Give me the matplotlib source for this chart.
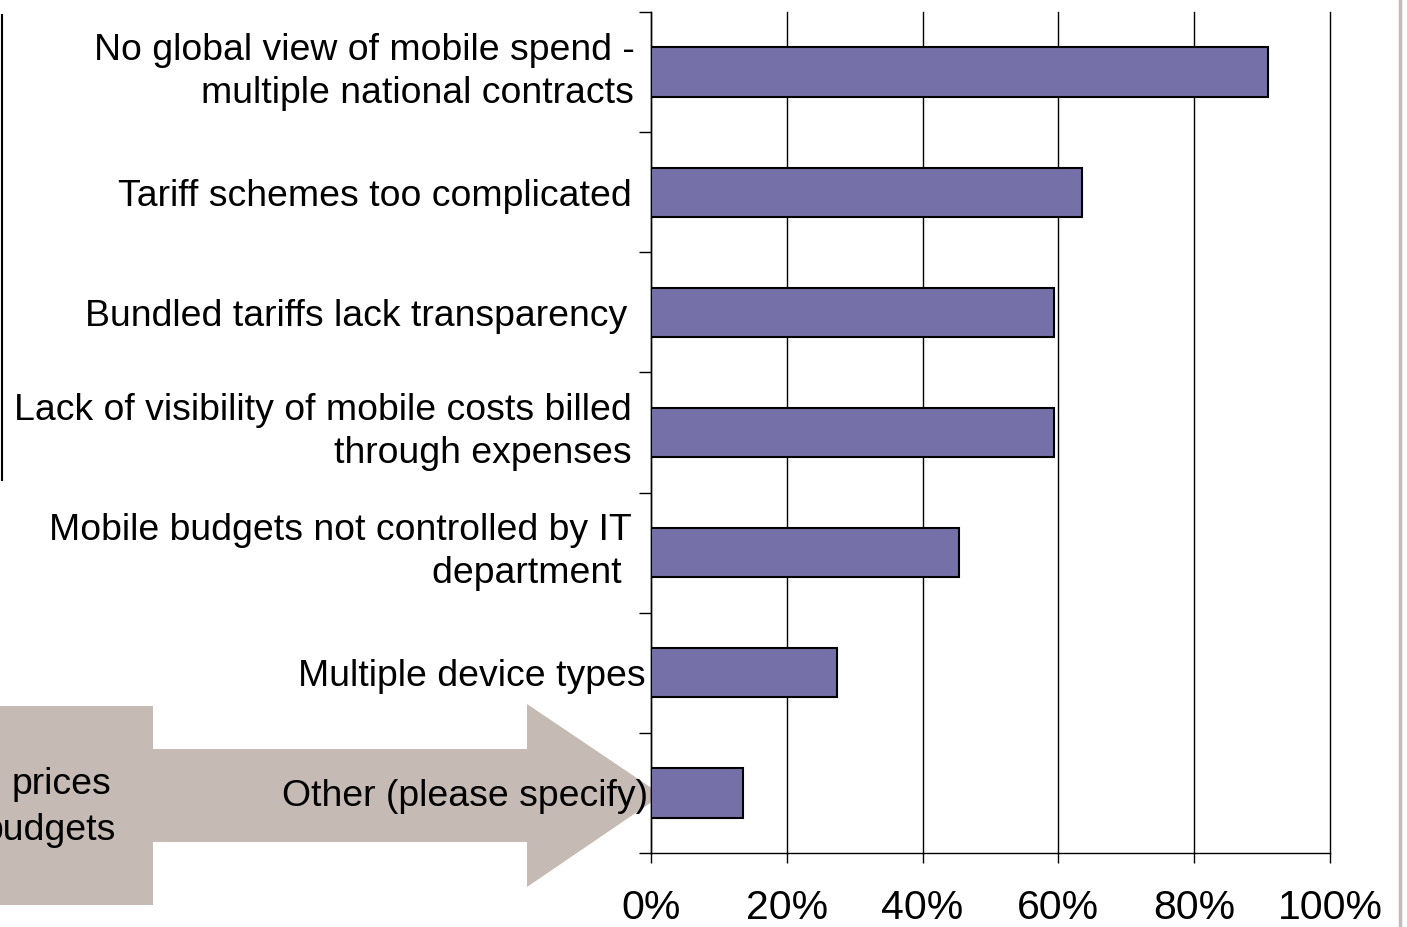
import matplotlib
matplotlib.use("Agg")
import matplotlib.pyplot as plt
from matplotlib.patches import Polygon
from matplotlib.lines import Line2D
from matplotlib.ticker import PercentFormatter, FixedLocator
from matplotlib.transforms import ScaledTranslation

# -----------------------------
# data
# -----------------------------
categories = [
    "No global view of mobile spend -\nmultiple national contracts",
    "Tariff schemes too complicated",
    "Bundled tariffs lack transparency",
    "Lack of visibility of mobile costs billed\nthrough expenses",
    "Mobile budgets not controlled by IT\ndepartment ",
    "Multiple device types",
    "Other (please specify)",
]
values = [90.9, 63.5, 59.4, 59.4, 45.4, 27.4, 13.5]
x_ticks = [0, 20, 40, 60, 80, 100]
label_pads = [12, 14, 17, 14, 14, 4, 2]

BAR_COLOR = "#7670A9"
TAUPE = "#C6BAB4"
FONT = "Liberation Sans"
LABEL_SIZE = 26.9

W, H = 1407, 927
fig = plt.figure(figsize=(W / 100, H / 100), dpi=100)
plt.rcParams["font.family"] = FONT


def fx(px):
    return px / W


def fy(py):
    return 1 - py / H


# background arrow (decoration, figure pixel coords)
arrow_pts = [(-5, 706), (153, 706), (153, 749), (527, 749), (527, 704),
             (662, 795), (527, 887), (527, 842), (153, 842), (153, 905), (-5, 905)]
fig.patches.append(Polygon([(fx(x), fy(y)) for x, y in arrow_pts], closed=True,
                           transform=fig.transFigure, facecolor=TAUPE,
                           edgecolor="none", zorder=-1))
fig.text(fx(111), fy(785), "prices", ha="right", va="center", fontsize=LABEL_SIZE)
fig.text(fx(116), fy(830), "budgets", ha="right", va="center", fontsize=LABEL_SIZE)

# side lines
fig.add_artist(Line2D([fx(1400), fx(1400)], [0, 1], color=TAUPE, lw=2.5,
                      transform=fig.transFigure))
fig.add_artist(Line2D([fx(2), fx(2)], [fy(15), fy(480)], color="black", lw=1.5,
                      transform=fig.transFigure))

# -----------------------------
# bar chart
# -----------------------------
ax = fig.add_axes([fx(651), fy(853), fx(1330) - fx(651), fy(12) - fy(853)])
ax.set_facecolor("none")
pos = list(range(len(categories)))
ax.barh(pos, values, height=0.41, color=BAR_COLOR, edgecolor="black",
        linewidth=1.5, zorder=3)
ax.set_xlim(0, 100)
ax.set_ylim(len(categories) - 0.5, -0.5)

ax.set_xticks(x_ticks)
ax.xaxis.set_major_formatter(PercentFormatter(decimals=0))
ax.tick_params(axis="x", direction="out", length=7, width=1, pad=19,
               labelsize=29.5)
ax.grid(axis="x", color="black", linewidth=1, zorder=1)
for gl in ax.get_xgridlines():
    gl.set_clip_on(False)

ax.set_yticks(pos)
ax.set_yticklabels(categories, fontsize=LABEL_SIZE, multialignment="right",
                   linespacing=1.3)
ax.yaxis.set_minor_locator(FixedLocator([p - 0.5 for p in range(len(categories) + 1)]))
ax.tick_params(axis="y", which="major", length=0)
ax.tick_params(axis="y", which="minor", direction="out", length=8.5, width=1)
for tick, p, name in zip(ax.yaxis.get_major_ticks(), label_pads, categories):
    tick.set_pad(p)
    if "\n" in name:
        lbl = tick.label1
        lbl.set_transform(lbl.get_transform()
                          + ScaledTranslation(0, 6 / 72, fig.dpi_scale_trans))

for side in ["top", "right"]:
    ax.spines[side].set_visible(False)
ax.spines["left"].set_linewidth(1)
ax.spines["bottom"].set_linewidth(1)

fig.savefig("out.png", dpi=100)
